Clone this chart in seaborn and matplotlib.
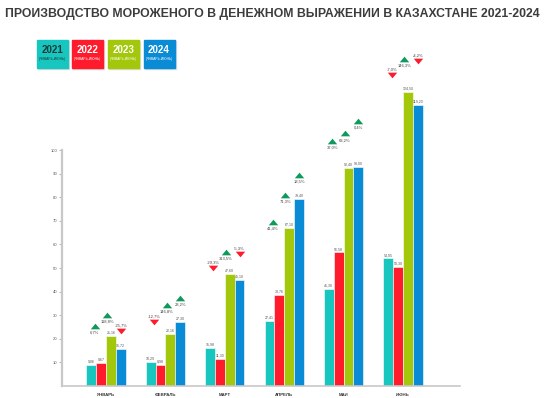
import numpy as np
import pandas as pd
import matplotlib
matplotlib.use("Agg")
import matplotlib.pyplot as plt
from matplotlib.patches import Rectangle
import seaborn as sns

# ---------------- data ----------------
months = ["ЯНВАРЬ", "ФЕВРАЛЬ", "МАРТ", "АПРЕЛЬ", "МАЙ", "ИЮНЬ"]
years = ["2021", "2022", "2023", "2024"]
v2021 = [9.06, 10.29, 15.98, 27.41, 41.30, 54.05]
v2022 = [9.67, 8.98, 11.30, 38.76, 56.58, 50.30]
v2023 = [21.16, 22.16, 47.60, 67.10, 92.40, 124.50]
v2024 = [15.72, 27.30, 45.10, 79.40, 93.00, 119.20]
# year-over-year change (%) for 2022, 2023, 2024
pct2022 = [6.7, -12.7, -29.3, 41.4, 37.0, -7.0]
pct2023 = [118.8, 146.8, 313.5, 71.3, 63.2, 146.3]
pct2024 = [-25.7, 23.2, -5.3, 18.5, 0.4, -4.2]
legend_sub = "(ЯНВАРЬ-ИЮНЬ)"
title = "ПРОИЗВОДСТВО МОРОЖЕНОГО В ДЕНЕЖНОМ ВЫРАЖЕНИИ В КАЗАХСТАНЕ 2021-2024"
yticks = [10, 20, 30, 40, 50, 60, 70, 80, 90, 100]

# ---------------- layout / style ----------------
colors = ["#17c6be", "#ff1a2c", "#a2c70b", "#0a8bd6"]
up_color = "#0f9a5c"
down_color = "#ff1a2c"
# annotation triangle heights (data units) per month for 2022/2023/2024
ann_y = [[25.4, 30.1, 23.3],
         [27.1, 34.3, 37.3],
         [50.0, 56.8, 55.9],
         [69.5, 80.9, 89.4],
         [104.0, 107.0, 112.4],
         [131.6, 138.6, 137.7]]
ann_dx = [-0.19, 0.02, 0.25]
up_marker = [(-1, -0.6), (1, -0.6), (0, 0.6), (-1, -0.6)]
down_marker = [(-1, 0.6), (1, 0.6), (0, -0.6), (-1, 0.6)]

df = pd.DataFrame({
    "month": months * 4,
    "year": sum([[y] * 6 for y in years], []),
    "value": v2021 + v2022 + v2023 + v2024,
})

sns.set_style("white")
plt.rcParams["font.family"] = ["Liberation Sans", "DejaVu Sans"]

W, H = 547, 398
fig = plt.figure(figsize=(W / 100, H / 100), dpi=100)
ymax = 140
ax = fig.add_axes([62 / W, (H - 386) / H, 398 / W, ymax * 2.36 / H])

sns.barplot(data=df, x="month", y="value", hue="year", order=months,
            hue_order=years, palette=colors, width=0.66, ax=ax,
            edgecolor="white", linewidth=0.4, legend=False, saturation=1)

ax.set_xlim(-0.74, 5.96)
ax.set_ylim(0, ymax)
ax.set_xlabel("")
ax.set_ylabel("")
ax.set_yticks(yticks)
ax.set_yticklabels([str(t) for t in yticks], fontsize=3, color="#555555")
ax.tick_params(axis="y", length=2, width=0.5, color="#999999", pad=1.5, left=True)
ax.tick_params(axis="x", length=0, pad=5)
for lab in ax.get_xticklabels():
    lab.set_fontsize(3.2)
    lab.set_fontweight("bold")
    lab.set_color("#333333")
for s in ["top", "right"]:
    ax.spines[s].set_visible(False)
ax.spines["left"].set_bounds(0, 100)
ax.spines["left"].set_color("#c8c8c8")
ax.spines["left"].set_linewidth(1.6)
ax.spines["bottom"].set_color("#c8c8c8")
ax.spines["bottom"].set_linewidth(1.2)

for cont, vals in zip(ax.containers, [v2021, v2022, v2023, v2024]):
    ax.bar_label(cont, labels=[f"{v:.2f}".replace(".", ",") for v in vals],
                 fontsize=2.6, color="#555555", padding=1)

pcts = [pct2022, pct2023, pct2024]
for m in range(len(months)):
    for k in range(3):
        p = pcts[k][m]
        x = m + ann_dx[k]
        y = ann_y[m][k]
        txt = f"{p:.1f}%".replace(".", ",")
        if p >= 0:
            ax.plot(x, y, marker=up_marker, markersize=6.8, color=up_color,
                    markeredgewidth=0, clip_on=False)
            ax.text(x, y - 2.8, txt, ha="center", va="center", fontsize=3.0,
                    color="#444444", clip_on=False)
        else:
            ax.plot(x, y, marker=down_marker, markersize=6.8, color=down_color,
                    markeredgewidth=0, clip_on=False)
            ax.text(x, y + 2.4, txt, ha="center", va="center", fontsize=3.0,
                    color="#444444", clip_on=False)

# title
fig.text(5 / W, 1 - 14 / H, title, ha="left", va="center", fontsize=8.8,
         fontweight="bold", color="#3c3c3c")

# legend boxes
box_x = [36.7, 72.3, 107.9, 143.5]
for xb, c, yr, i in zip(box_x, colors, years, range(4)):
    fig.add_artist(Rectangle((xb / W + 0.002, 1 - 69 / H), 31 / W, 28 / H,
                             transform=fig.transFigure, color="#dddddd", zorder=1))
    fig.add_artist(Rectangle((xb / W, 1 - 68 / H), 31 / W, 28 / H,
                             transform=fig.transFigure, color=c, zorder=2))
    tc = "#1d3a3a" if i == 0 else "white"
    fig.text((xb + 15.5) / W, 1 - 50 / H, yr, ha="center", va="center",
             fontsize=7, fontweight="bold", color=tc, zorder=3)
    fig.text((xb + 15.5) / W, 1 - 59 / H, legend_sub, ha="center", va="center",
             fontsize=2.4, color=tc, zorder=3)

fig.savefig("out.png", dpi=100, facecolor="white")
